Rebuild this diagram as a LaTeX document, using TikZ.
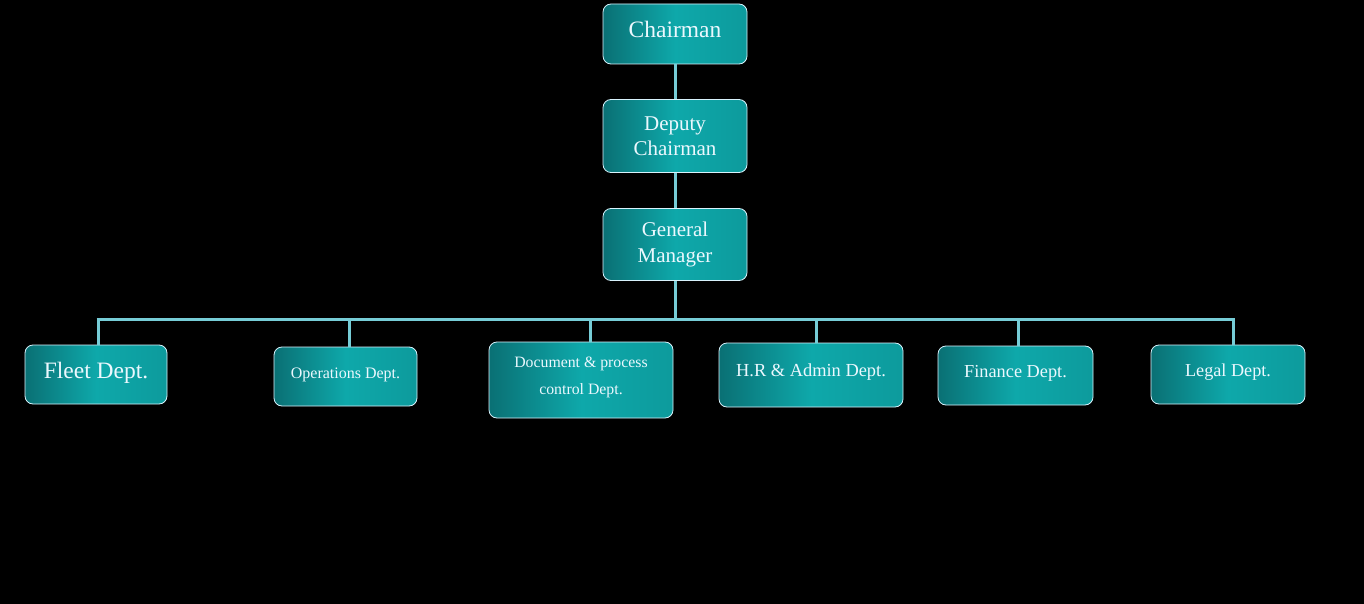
\documentclass[tikz,border=0pt]{standalone}
\usepackage{fontspec}
\setmainfont{Liberation Serif}
\definecolor{boxteal}{RGB}{14,168,170}
\definecolor{boxdark}{RGB}{10,112,116}
\definecolor{linkblue}{RGB}{118,204,214}
\begin{document}
\begin{tikzpicture}[x=1pt,y=-1pt,
    box/.style={draw=white!85!cyan, line width=0.8pt, rounded corners=8pt,
      left color=boxdark, right color=boxteal!92!black, middle color=boxteal,
      text=white!92!cyan, align=center, inner sep=0pt},
    lift/.style={text depth=#1},
    link/.style={draw=linkblue, line width=3pt}]
    \useasboundingbox (0,0) rectangle (1364,604);
    \fill[black] (0,0) rectangle (1364,604);

    \node[box, lift=10pt, minimum width=144pt, minimum height=60pt, font=\fontsize{23.5}{26}\selectfont] (chair) at (675,34) {Chairman};
    \node[box, minimum width=144pt, minimum height=73pt, font=\fontsize{21}{25.5}\selectfont] (deputy) at (675,136) {Deputy\\Chairman};
    \node[box, minimum width=144pt, minimum height=72pt, font=\fontsize{21}{25.5}\selectfont] (gm) at (675,244.5) {General\\Manager};

    \node[box, lift=9pt, minimum width=142pt, minimum height=59pt, font=\fontsize{23.5}{26}\selectfont] (fleet) at (96,374.5) {Fleet Dept.};
    \node[box, lift=6pt, minimum width=143pt, minimum height=59pt, font=\fontsize{16}{18}\selectfont] (ops) at (345.5,376.5) {Operations Dept.};
    \node[box, minimum width=184pt, minimum height=76pt, font=\fontsize{15.8}{27}\selectfont] (doc) at (581,380) {Document \& process\\control Dept.\rule[-9pt]{0pt}{1pt}};
    \node[box, lift=9pt, minimum width=184pt, minimum height=64pt, font=\fontsize{18.4}{21}\selectfont] (hr) at (811,375) {H.R \& Admin Dept.};
    \node[box, lift=8pt, minimum width=155pt, minimum height=59pt, font=\fontsize{18.3}{21}\selectfont] (fin) at (1015.5,375.5) {Finance Dept.};
    \node[box, lift=8pt, minimum width=154pt, minimum height=59pt, font=\fontsize{18.2}{21}\selectfont] (legal) at (1228,374.5) {Legal Dept.};

    \coordinate (busL) at (98,319);
    \coordinate (busR) at (1233,319);

    \draw[link] (chair.south) -- (deputy.north);
    \draw[link] (deputy.south) -- (gm.north);
    \draw[link] (gm.south) -- (gm.south |- busL);
    \draw[link] ([xshift=-1.5pt]busL) -- ([xshift=1.5pt]busR);
    \foreach \n/\dx in {fleet/2, ops/3.5, doc/9, hr/5, fin/2.5, legal/5}
      \draw[link] ([xshift=\dx pt]\n.north) -- ([xshift=\dx pt]\n.north |- busL);
  \end{tikzpicture}
\end{document}
